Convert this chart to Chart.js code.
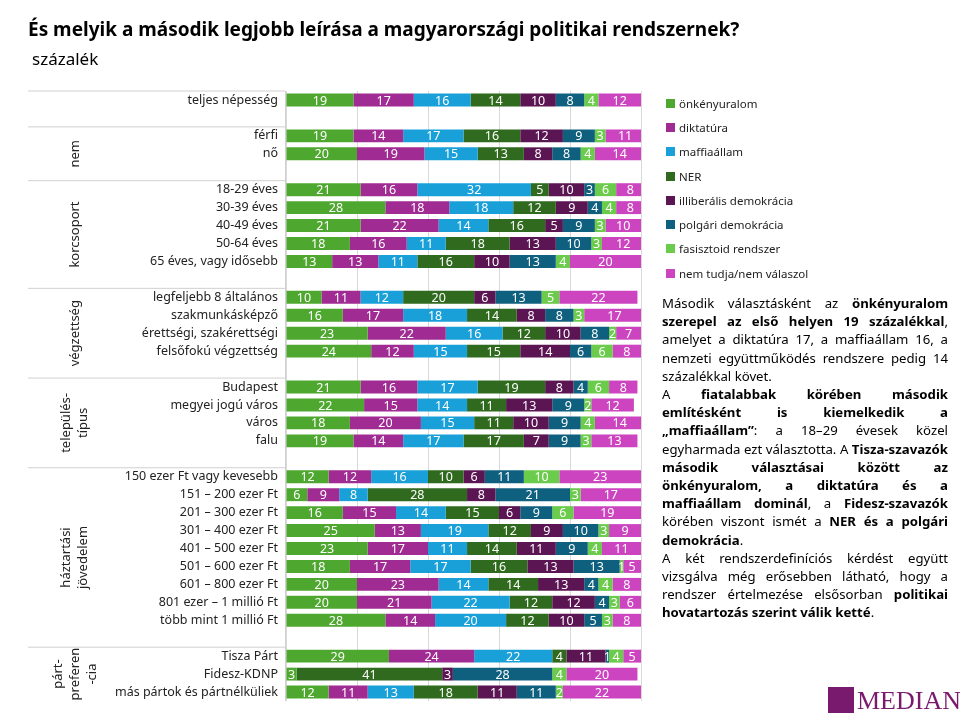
<!DOCTYPE html>
<html>
<head>
<meta charset="utf-8">
<script src="https://cdn.jsdelivr.net/npm/chart.js@4"></script>
<style>
  body { margin: 0; width: 960px; height: 720px; position: relative; font-family: "Noto Sans", sans-serif; background: #fff; overflow: hidden; }
  #title { position: absolute; left: 28px; top: 16px; font-size: 19px; font-weight: bold; color: #000; }
  #subtitle { position: absolute; left: 32px; top: 47px; font-size: 17px; color: #000; }
  #wrap { position: absolute; left: 0; top: 0; width: 960px; height: 720px; }
  #legend { position: absolute; left: 666px; top: 91px; font-size: 11.5px; color: #222; }
  #legend div { height: 24.3px; display: flex; align-items: center; }
  #legend span { display: inline-block; width: 9px; height: 9px; margin-right: 4px; }
  #note { position: absolute; left: 662px; top: 294px; width: 286px; font-size: 13.2px; line-height: 18.2px; text-align: justify; color: #000; }
  #logo { position: absolute; left: 828px; top: 686px; white-space: nowrap; font-family: "Liberation Serif", serif; font-size: 26px; color: #7a1a6e; }
  #logo b { display: inline-block; width: 26px; height: 26px; background: #7a1a6e; vertical-align: -4px; margin-right: 3px; }
</style>
</head>
<body>
<div id="wrap"><canvas id="chart" width="960" height="720"></canvas></div>
<div id="title">És melyik a második legjobb leírása a magyarországi politikai rendszernek?</div>
<div id="subtitle">százalék</div>
<div id="legend"></div>
<div id="note">Második választásként az <b>önkényuralom szerepel az első helyen 19 százalékkal</b>, amelyet a diktatúra 17, a maffiaállam 16, a nemzeti együttműködés rendszere pedig 14 százalékkal követ.<br>A <b>fiatalabbak körében második említésként is kiemelkedik a „maffiaállam”</b>: a 18–29 évesek közel egyharmada ezt választotta. A <b>Tisza-szavazók második választásai között az önkényuralom, a diktatúra és a maffiaállam dominál</b>, a <b>Fidesz-szavazók</b> körében viszont ismét a <b>NER és a polgári demokrácia</b>.<br>A két rendszerdefiníciós kérdést együtt vizsgálva még erősebben látható, hogy a rendszer értelmezése elsősorban <b>politikai hovatartozás szerint válik ketté</b>.</div>
<div id="logo"><b></b>MEDIAN</div>
<script>
// sorok (üres címke = térköz a csoportok között)
const labels = [
  'teljes népesség', '',
  'férfi', 'nő', '',
  '18-29 éves', '30-39 éves', '40-49 éves', '50-64 éves', '65 éves, vagy idősebb', '',
  'legfeljebb 8 általános', 'szakmunkásképző', 'érettségi, szakérettségi', 'felsőfokú végzettség', '',
  'Budapest', 'megyei jogú város', 'város', 'falu', '',
  '150 ezer Ft vagy kevesebb', '151 – 200 ezer Ft', '201 – 300 ezer Ft', '301 – 400 ezer Ft', '401 – 500 ezer Ft',
  '501 – 600 ezer Ft', '601 – 800 ezer Ft', '801 ezer – 1 millió Ft', 'több mint 1 millió Ft', '',
  'Tisza Párt', 'Fidesz-KDNP', 'más pártok és pártnélküliek'
];

// csoportok: első sor indexe és felirat sorai
const groups = [
  { start: 0, text: [] },
  { start: 2, text: ['nem'] },
  { start: 5, text: ['korcsoport'] },
  { start: 11, text: ['végzettség'] },
  { start: 16, text: ['település-', 'típus'] },
  { start: 21, text: ['háztartási', 'jövedelem'] },
  { start: 31, text: ['párt-', 'preferen', '-cia'] }
];

const onkenyuralom = [19, null, 19, 20, null, 21, 28, 21, 18, 13, null, 10, 16, 23, 24, null, 21, 22, 18, 19, null, 12, 6, 16, 25, 23, 18, 20, 20, 28, null, 29, 3, 12];
const diktatura    = [17, null, 14, 19, null, 16, 18, 22, 16, 13, null, 11, 17, 22, 12, null, 16, 15, 20, 14, null, 12, 9, 15, 13, 17, 17, 23, 21, 14, null, 24, 0, 11];
const maffiaallam  = [16, null, 17, 15, null, 32, 18, 14, 11, 11, null, 12, 18, 16, 15, null, 17, 14, 15, 17, null, 16, 8, 14, 19, 11, 17, 14, 22, 20, null, 22, 0, 13];
const ner          = [14, null, 16, 13, null, 5, 12, 16, 18, 16, null, 20, 14, 12, 15, null, 19, 11, 11, 17, null, 10, 28, 15, 12, 14, 16, 14, 12, 12, null, 4, 41, 18];
const illiberalis  = [10, null, 12, 8, null, 10, 9, 5, 13, 10, null, 6, 8, 10, 14, null, 8, 13, 10, 7, null, 6, 8, 6, 9, 11, 13, 13, 12, 10, null, 11, 3, 11];
const polgari      = [8, null, 9, 8, null, 3, 4, 9, 10, 13, null, 13, 8, 8, 6, null, 4, 9, 9, 9, null, 11, 21, 9, 10, 9, 13, 4, 4, 5, null, 1, 28, 11];
const fasisztoid   = [4, null, 3, 4, null, 6, 4, 3, 3, 4, null, 5, 3, 2, 6, null, 6, 2, 4, 3, null, 10, 3, 6, 3, 4, 1, 4, 3, 3, null, 4, 4, 2];
const nemTudja     = [12, null, 11, 14, null, 8, 8, 10, 12, 20, null, 22, 17, 7, 8, null, 8, 12, 14, 13, null, 23, 17, 19, 9, 11, 5, 8, 6, 8, null, 5, 20, 22];

const series = [
  { label: 'önkényuralom', data: onkenyuralom, color: '#4ea72e' },
  { label: 'diktatúra', data: diktatura, color: '#a02b93' },
  { label: 'maffiaállam', data: maffiaallam, color: '#1aa0d8' },
  { label: 'NER', data: ner, color: '#2f6a1e' },
  { label: 'illiberális demokrácia', data: illiberalis, color: '#5b1553' },
  { label: 'polgári demokrácia', data: polgari, color: '#0f5f7f' },
  { label: 'fasisztoid rendszer', data: fasisztoid, color: '#6bcb4b' },
  { label: 'nem tudja/nem válaszol', data: nemTudja, color: '#cc44c0' }
];

const legendEl = document.getElementById('legend');
series.forEach((s) => {
  const row = document.createElement('div');
  row.innerHTML = '<span style="background:' + s.color + '"></span>' + s.label;
  legendEl.appendChild(row);
});

// feliratok, csoportcímkék és elválasztó vonalak
const tablePlugin = {
  id: 'tablePlugin',
  afterDraw(chart) {
    const ctx = chart.ctx;
    const y = chart.scales.y;
    const step = y.getPixelForValue(1) - y.getPixelForValue(0);
    ctx.save();
    ctx.font = '12.5px "Noto Sans", sans-serif';
    ctx.fillStyle = '#222';
    ctx.textAlign = 'right';
    ctx.textBaseline = 'middle';
    labels.forEach((l, i) => { if (l) ctx.fillText(l, 278, y.getPixelForValue(i)); });

    ctx.strokeStyle = '#d0d0d0';
    ctx.lineWidth = 1;
    const bottom = chart.chartArea.bottom;
    groups.forEach((g, gi) => {
      const top = y.getPixelForValue(g.start) - step * 0.5;
      ctx.beginPath(); ctx.moveTo(28, top); ctx.lineTo(285, top); ctx.stroke();
      const next = gi + 1 < groups.length ? y.getPixelForValue(groups[gi + 1].start) - step * 0.5 : bottom;
      const mid = (top + next) / 2;
      ctx.save();
      ctx.translate(75, mid);
      ctx.rotate(-Math.PI / 2);
      ctx.textAlign = 'center';
      ctx.font = '13px "Noto Sans", sans-serif';
      const n = g.text.length;
      g.text.forEach((t, k) => ctx.fillText(t, 0, (k - (n - 1) / 2) * 17));
      ctx.restore();
    });
    ctx.beginPath(); ctx.moveTo(285.5, y.getPixelForValue(0) - step * 0.5); ctx.lineTo(285.5, bottom); ctx.stroke();

    // értékek a sávokon
    ctx.font = '12.5px "Noto Sans", sans-serif';
    ctx.fillStyle = '#fff';
    ctx.textAlign = 'center';
    chart.data.datasets.forEach((ds, di) => {
      chart.getDatasetMeta(di).data.forEach((bar, i) => {
        const v = ds.data[i];
        if (v) ctx.fillText(v, (bar.x + bar.base) / 2, bar.y + 1);
      });
    });
    ctx.restore();
  }
};

new Chart(document.getElementById('chart'), {
  type: 'bar',
  data: {
    labels: labels,
    datasets: series.map((s) => ({ label: s.label, data: s.data, backgroundColor: s.color, barPercentage: 0.72, categoryPercentage: 1 }))
  },
  options: {
    indexAxis: 'y',
    responsive: false,
    animation: false,
    layout: { padding: { left: 278, right: 319, top: 91, bottom: 19 } },
    scales: {
      x: { stacked: true, min: 0, max: 100, ticks: { display: false, stepSize: 20 }, grid: { color: '#d9d9d9', drawTicks: false }, border: { display: false } },
      y: { stacked: true, ticks: { display: false }, grid: { display: false }, border: { display: false } }
    },
    plugins: { legend: { display: false }, tooltip: { enabled: false } }
  },
  plugins: [tablePlugin]
});
</script>
</body>
</html>
